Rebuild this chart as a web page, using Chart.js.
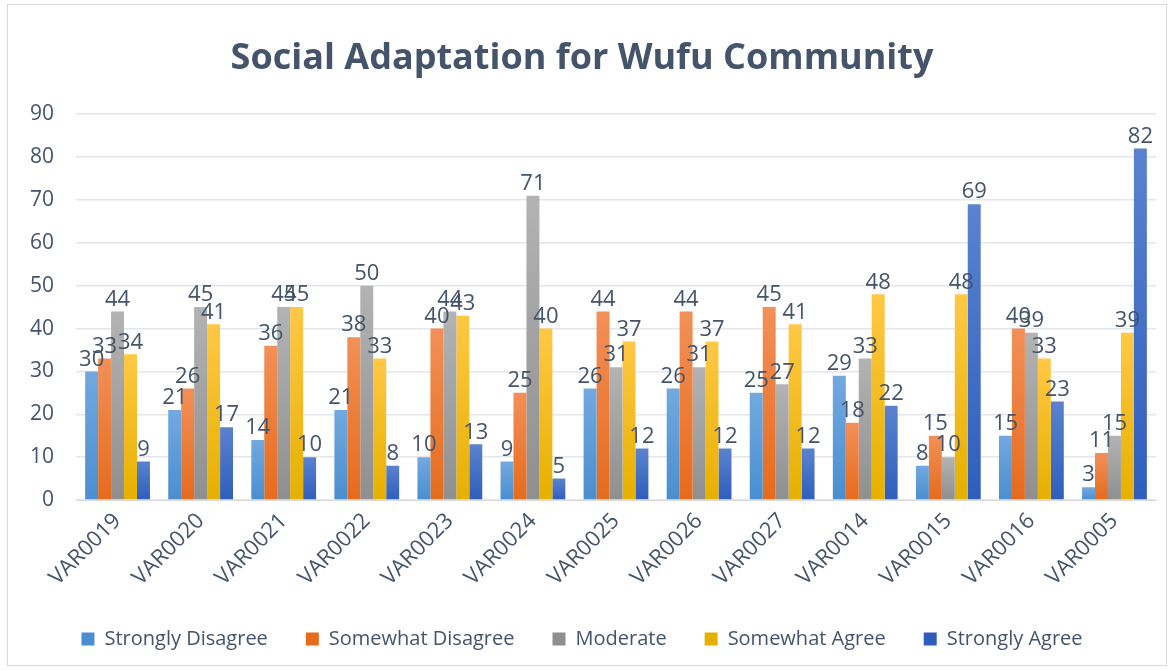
<!DOCTYPE html>
<html>
<head>
<meta charset="utf-8">
<script src="https://cdn.jsdelivr.net/npm/chart.js@4"></script>
<style>
  html, body { margin: 0; padding: 0; background: #fff; }
  #wrap { position: absolute; left: 7px; top: 4px; width: 1158px; height: 660px; border: 1px solid #d9d9d9; }
</style>
</head>
<body>
<div id="wrap"><canvas id="c"></canvas></div>
<script>
const categories = ['VAR0019','VAR0020','VAR0021','VAR0022','VAR0023','VAR0024','VAR0025','VAR0026','VAR0027','VAR0014','VAR0015','VAR0016','VAR0005'];
const stronglyDisagree = [30, 21, 14, 21, 10, 9, 26, 26, 25, 29, 8, 15, 3];
const somewhatDisagree = [33, 26, 36, 38, 40, 25, 44, 44, 45, 18, 15, 40, 11];
const moderate         = [44, 45, 45, 50, 44, 71, 31, 31, 27, 33, 10, 39, 15];
const somewhatAgree    = [34, 41, 45, 33, 43, 40, 37, 37, 41, 48, 48, 33, 39];
const stronglyAgree    = [9, 17, 10, 8, 13, 5, 12, 12, 12, 22, 69, 23, 82];

const textColor = '#44546a';

// light top, darker bottom, like the office style bars
function grad(top, bottom, flat) {
  return function(context) {
    const chart = context.chart;
    const area = chart.chartArea;
    if (!area || context.raw === undefined) return flat;
    const y = chart.scales.y.getPixelForValue(context.raw);
    const g = chart.ctx.createLinearGradient(0, y, 0, area.bottom);
    g.addColorStop(0, top);
    g.addColorStop(1, bottom);
    return g;
  };
}

const barLabels = {
  id: 'barLabels',
  afterDatasetsDraw(chart) {
    const ctx = chart.ctx;
    ctx.save();
    ctx.font = '22px "Open Sans"';
    ctx.fillStyle = textColor;
    ctx.textAlign = 'center';
    ctx.textBaseline = 'bottom';
    chart.data.datasets.forEach((ds, i) => {
      chart.getDatasetMeta(i).data.forEach((bar, j) => {
        ctx.fillText(ds.data[j], bar.x, bar.y - 1);
      });
    });
    ctx.restore();
  }
};

const ctx = document.getElementById('c');
new Chart(ctx, {
  type: 'bar',
  data: {
    labels: categories,
    datasets: [
      { label: 'Strongly Disagree', data: stronglyDisagree, backgroundColor: grad('#72a9df', '#4a8ed0', '#5b9bd5') },
      { label: 'Somewhat Disagree', data: somewhatDisagree, backgroundColor: grad('#f29058', '#e66b1c', '#ed7d31') },
      { label: 'Moderate', data: moderate, backgroundColor: grad('#b3b3b3', '#8f8f8f', '#a5a5a5') },
      { label: 'Somewhat Agree', data: somewhatAgree, backgroundColor: grad('#ffc845', '#e6b000', '#ffc000') },
      { label: 'Strongly Agree', data: stronglyAgree, backgroundColor: grad('#5a82cf', '#2e5ebd', '#4472c4') }
    ]
  },
  options: {
    responsive: true,
    maintainAspectRatio: false,
    animation: false,
    categoryPercentage: 0.78,
    barPercentage: 1,
    layout: { padding: { top: 32, left: 0, right: 10, bottom: 6 } },
    plugins: {
      title: {
        display: true,
        text: 'Social Adaptation for Wufu Community',
        color: textColor,
        font: { family: 'Open Sans', size: 36, weight: 'bold' },
        padding: { top: 0, bottom: 34 }
      },
      legend: {
        position: 'bottom',
        labels: {
          color: textColor,
          font: { family: 'Open Sans', size: 20 },
          boxWidth: 13,
          boxHeight: 13,
          padding: 38
        }
      },
      tooltip: { enabled: false }
    },
    scales: {
      x: {
        grid: { display: false },
        border: { color: '#d9d9d9' },
        ticks: {
          color: textColor,
          font: { family: 'Open Sans', size: 22 },
          maxRotation: 45,
          minRotation: 45,
          padding: 0
        }
      },
      y: {
        min: 0,
        max: 90,
        ticks: {
          stepSize: 10,
          color: textColor,
          font: { family: 'Open Sans', size: 21 },
          padding: 22
        },
        grid: { color: '#e3e6ea', lineWidth: 1.5, drawTicks: false },
        border: { display: false }
      }
    }
  },
  plugins: [barLabels]
});
</script>
</body>
</html>
